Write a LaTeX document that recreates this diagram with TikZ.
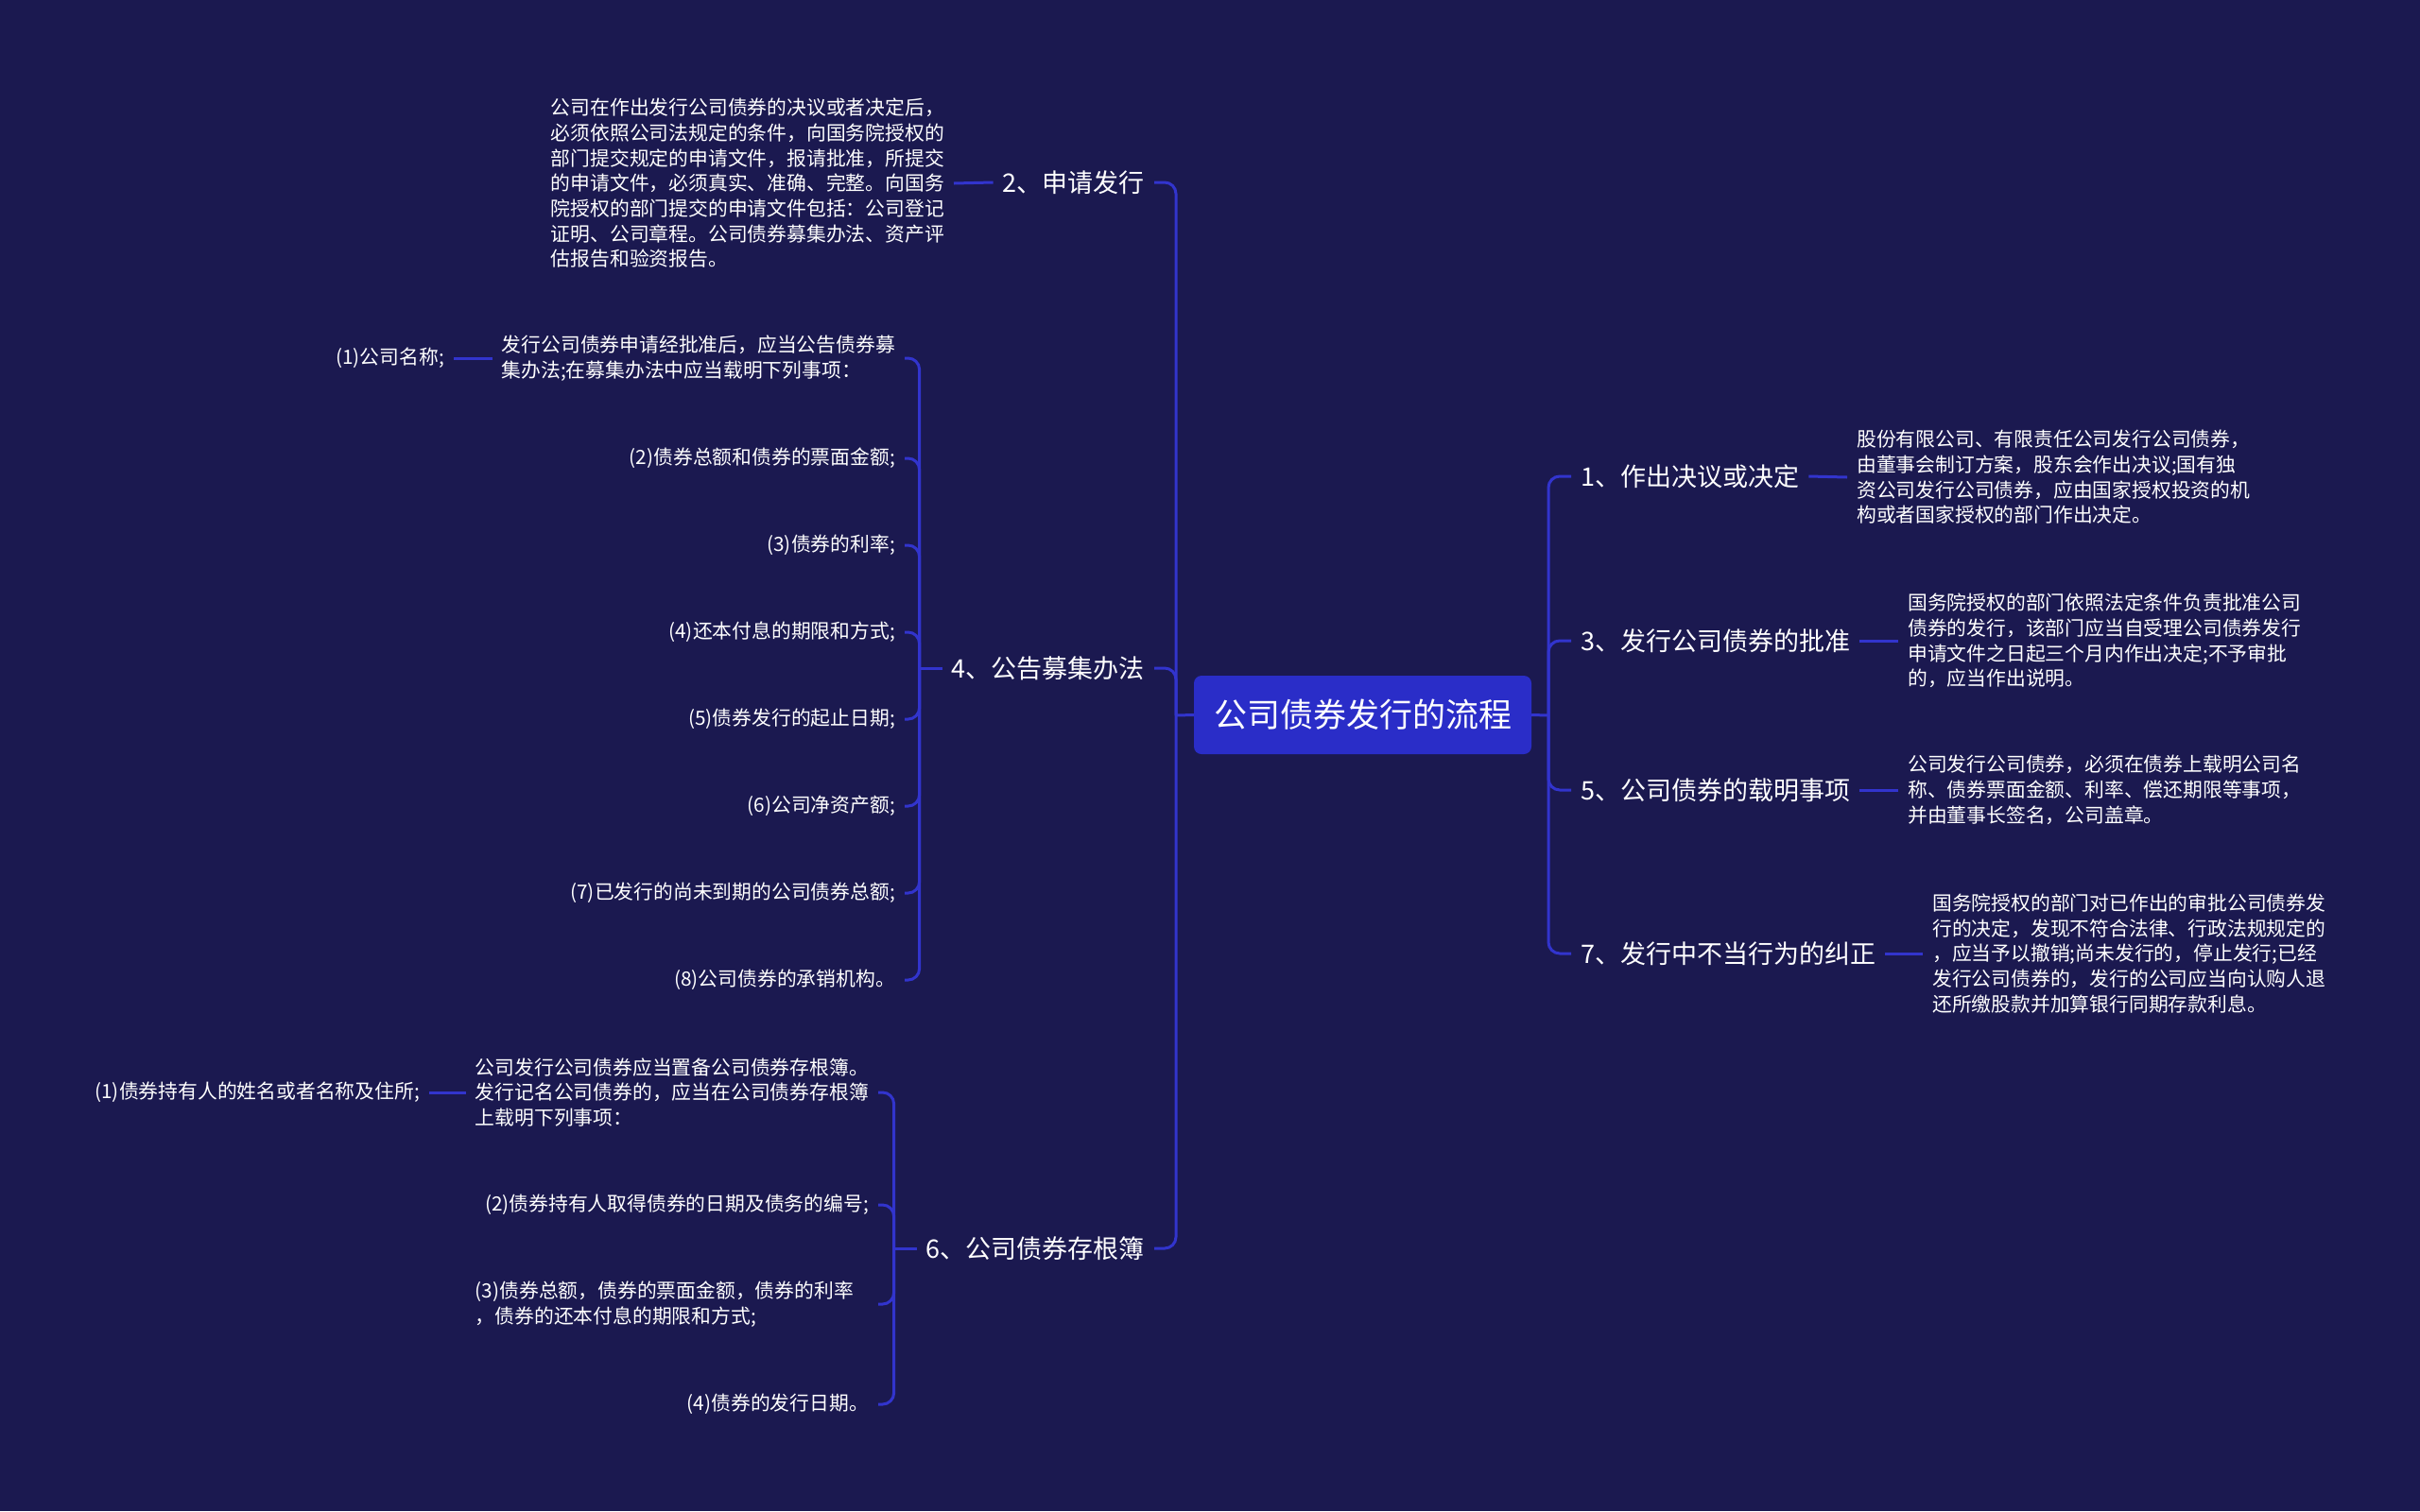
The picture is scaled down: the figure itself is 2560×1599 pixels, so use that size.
\documentclass[tikz,border=0pt]{standalone}
\usepackage{fontspec}
\setmainfont{Noto Sans CJK SC}
\definecolor{bgnavy}{RGB}{27,25,80}
\definecolor{topicblue}{RGB}{42,45,200}
\definecolor{wireblue}{RGB}{50,52,205}
\tikzset{
  topicbox/.style={fill=topicblue, rounded corners=8pt, text=white, font=\fontsize{35}{42}\selectfont, minimum width=357pt, minimum height=83pt, inner sep=0pt},
  mainitem/.style={text=white, font=\fontsize{27}{32}\selectfont, inner xsep=10pt, inner ysep=4pt},
  detail/.style={text=white, font=\fontsize{20.8}{26.7}\selectfont, align=left, inner xsep=10pt, inner ysep=4pt},
  wire/.style={draw=wireblue, line width=3pt, rounded corners=12pt},
}

\begin{document}
\begin{tikzpicture}[x=1pt,y=1pt,yscale=-1,xscale=1]
\fill[bgnavy] (0,0) rectangle (2560,1599);

\node[topicbox] (topic) at (1441.5,756.5) {公司债券发行的流程};
\coordinate (jl) at (1244,757);
\coordinate (jr) at (1638,757);
\draw[wire] (topic.west) -- (jl);
\draw[wire] (topic.east) -- (jr);

% left side
\node[mainitem, anchor=east] (n2) at (1221,193) {2、申请发行};
\node[mainitem, anchor=east] (n4) at (1221,707) {4、公告募集办法};
\node[mainitem, anchor=east] (n6) at (1221,1321) {6、公司债券存根簿};
\draw[wire] (jl) |- (n2.east);
\draw[wire] (jl) |- (n4.east);
\draw[wire] (jl) |- (n6.east);

\node[detail, anchor=east] (p2) at (1009,194) {公司在作出发行公司债券的决议或者决定后，\\必须依照公司法规定的条件，向国务院授权的\\部门提交规定的申请文件，报请批准，所提交\\的申请文件，必须真实、准确、完整。向国务\\院授权的部门提交的申请文件包括：公司登记\\证明、公司章程。公司债券募集办法、资产评\\估报告和验资报告。};
\draw[wire] (n2.west) -- (p2.east);

\coordinate (j4) at ([xshift=-24pt]n4.west);
\draw[wire] (n4.west) -- (j4);
\node[detail, anchor=east] (c41) at (957,379) {发行公司债券申请经批准后，应当公告债券募\\集办法;在募集办法中应当载明下列事项：};
\node[detail, anchor=east] (c41a) at (480,379) {(1)公司名称;};
\node[detail, anchor=east] (c42) at (957,485) {(2)债券总额和债券的票面金额;};
\node[detail, anchor=east] (c43) at (957,577) {(3)债券的利率;};
\node[detail, anchor=east] (c44) at (957,669) {(4)还本付息的期限和方式;};
\node[detail, anchor=east] (c45) at (957,761) {(5)债券发行的起止日期;};
\node[detail, anchor=east] (c46) at (957,853) {(6)公司净资产额;};
\node[detail, anchor=east] (c47) at (957,945) {(7)已发行的尚未到期的公司债券总额;};
\node[detail, anchor=east] (c48) at (957,1037) {(8)公司债券的承销机构。};
\foreach \c in {c41,c42,c43,c44,c45,c46,c47,c48}
  \draw[wire] (j4) |- (\c.east);
\draw[wire] (c41.west) -- (c41a.east);

\coordinate (j6) at ([xshift=-24pt]n6.west);
\draw[wire] (n6.west) -- (j6);
\node[detail, anchor=east] (c61) at (929,1156) {公司发行公司债券应当置备公司债券存根簿。\\发行记名公司债券的，应当在公司债券存根簿\\上载明下列事项：};
\node[detail, anchor=east] (c61a) at (454,1156) {(1)债券持有人的姓名或者名称及住所;};
\node[detail, anchor=east] (c62) at (929,1275) {(2)债券持有人取得债券的日期及债务的编号;};
\node[detail, anchor=east, text width=416pt] (c63) at (929,1380) {(3)债券总额，债券的票面金额，债券的利率\\，债券的还本付息的期限和方式;};
\node[detail, anchor=east] (c64) at (929,1486) {(4)债券的发行日期。};
\foreach \c in {c61,c62,c63,c64}
  \draw[wire] (j6) |- (\c.east);
\draw[wire] (c61.west) -- (c61a.east);

% right side
\node[mainitem, anchor=west] (n1) at (1662,504) {1、作出决议或决定};
\node[mainitem, anchor=west] (n3) at (1662,678) {3、发行公司债券的批准};
\node[mainitem, anchor=west] (n5) at (1662,836) {5、公司债券的载明事项};
\node[mainitem, anchor=west] (n7) at (1662,1009) {7、发行中不当行为的纠正};
\foreach \n in {n1,n3,n5,n7}
  \draw[wire] (jr) |- (\n.west);

\node[detail, anchor=west] (q1) at (1954,505) {股份有限公司、有限责任公司发行公司债券，\\由董事会制订方案，股东会作出决议;国有独\\资公司发行公司债券，应由国家授权投资的机\\构或者国家授权的部门作出决定。};
\node[detail, anchor=west] (q3) at (2008,678) {国务院授权的部门依照法定条件负责批准公司\\债券的发行，该部门应当自受理公司债券发行\\申请文件之日起三个月内作出决定;不予审批\\的，应当作出说明。};
\node[detail, anchor=west] (q5) at (2008,836) {公司发行公司债券，必须在债券上载明公司名\\称、债券票面金额、利率、偿还期限等事项，\\并由董事长签名，公司盖章。};
\node[detail, anchor=west] (q7) at (2034,1009) {国务院授权的部门对已作出的审批公司债券发\\行的决定，发现不符合法律、行政法规规定的\\，应当予以撤销;尚未发行的，停止发行;已经\\发行公司债券的，发行的公司应当向认购人退\\还所缴股款并加算银行同期存款利息。};
\draw[wire] (n1.east) -- (q1.west);
\draw[wire] (n3.east) -- (q3.west);
\draw[wire] (n5.east) -- (q5.west);
\draw[wire] (n7.east) -- (q7.west);
\end{tikzpicture}
\end{document}
